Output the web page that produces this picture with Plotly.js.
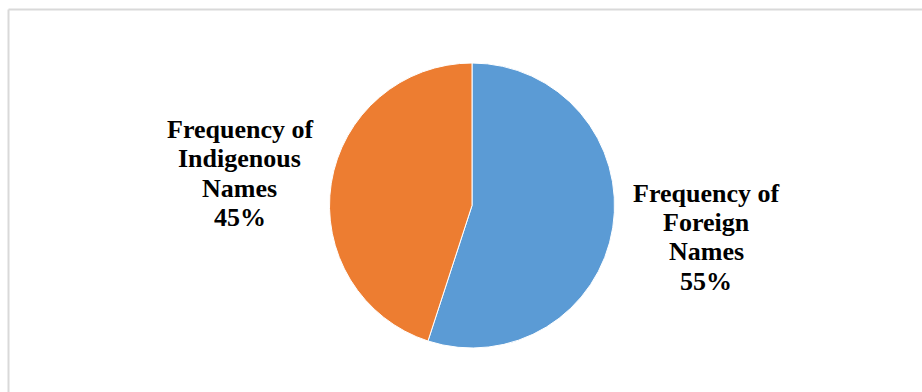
<!DOCTYPE html>
<html>
<head>
<meta charset="utf-8">
<script src="https://cdn.plot.ly/plotly-3.0.1.min.js"></script>
<style>html,body{margin:0;padding:0;background:#fff;}#chart{width:922px;height:392px;}</style>
</head>
<body>
<div id="chart"></div>
<script>
const labels = ["Frequency of Foreign Names", "Frequency of Indigenous Names"];
const labelLines = [["Frequency of", "Foreign", "Names"], ["Frequency of", "Indigenous", "Names"]];
const values = [55, 45];
const colors = ["#5B9BD5", "#ED7D31"];

const total = values.reduce((a, b) => a + b, 0);
const pct = values.map(v => Math.round(v / total * 100) + "%");

const W = 922, H = 392;
const cx = 472, cy = 205.5, r = 142.5;

const trace = {
  type: "pie",
  labels: labels,
  values: values,
  sort: false,
  direction: "clockwise",
  rotation: 0,
  marker: { colors: colors, line: { color: "#ffffff", width: 1 } },
  textinfo: "none",
  hoverinfo: "label+percent",
  showlegend: false,
  domain: { x: [(cx - r) / W, (cx + r) / W], y: [(H - cy - r) / H, (H - cy + r) / H] }
};

// label block placement: centre x and first-line middle y (pixels), line step
const labelPos = [{ x: 706, y: 193 }, { x: 240, y: 129 }];
const lineStep = 29.5;
const annotations = [];
labels.forEach((l, i) => {
  const lines = labelLines[i].concat([pct[i]]);
  lines.forEach((t, j) => {
    annotations.push({
      xref: "paper", yref: "paper",
      x: labelPos[i].x / W, y: (H - (labelPos[i].y + j * lineStep)) / H,
      xanchor: "center", yanchor: "middle",
      text: t,
      showarrow: false,
      align: "center",
      font: { family: "Liberation Serif", size: 26, color: "#000000", weight: "bold" }
    });
  });
});

const layout = {
  width: W, height: H,
  margin: { l: 0, r: 0, t: 0, b: 0 },
  paper_bgcolor: "#ffffff",
  plot_bgcolor: "#ffffff",
  annotations: annotations,
  shapes: [
    { type: "line", xref: "paper", yref: "paper", x0: 8.5 / W, x1: 1, y0: (H - 9.5) / H, y1: (H - 9.5) / H, line: { color: "#d9d9d9", width: 2 } },
    { type: "line", xref: "paper", yref: "paper", x0: 8.5 / W, x1: 8.5 / W, y0: 0, y1: (H - 9.5) / H, line: { color: "#d9d9d9", width: 2 } }
  ]
};

Plotly.newPlot("chart", [trace], layout, { displayModeBar: false, staticPlot: true });
</script>
</body>
</html>
